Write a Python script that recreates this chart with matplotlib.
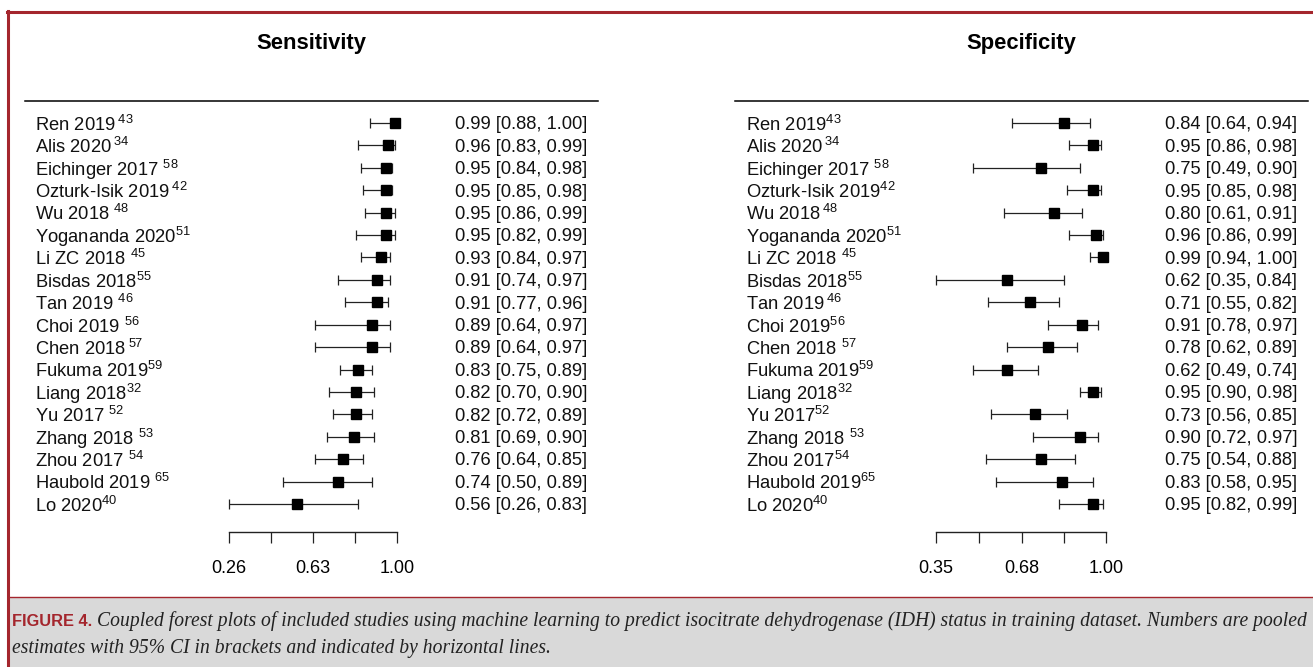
#!/usr/bin/env python3
# coupled forest plots (sensitivity / specificity) -- IDH training set, Fig. 4
import numpy as np
import matplotlib
matplotlib.use("Agg")
import matplotlib.pyplot as plt
from matplotlib.lines import Line2D
from matplotlib.patches import Rectangle
from matplotlib.transforms import blended_transform_factory

# ---- data ------------------------------------------------------------
studies = ["Ren 2019", "Alis 2020", "Eichinger 2017", "Ozturk-Isik 2019", "Wu 2018",
           "Yogananda 2020", "Li ZC 2018", "Bisdas 2018", "Tan 2019", "Choi 2019",
           "Chen 2018", "Fukuma 2019", "Liang 2018", "Yu 2017", "Zhang 2018",
           "Zhou 2017", "Haubold 2019", "Lo 2020"]
refs = ["43", "34", "58", "42", "48", "51", "45", "55", "46", "56",
        "57", "59", "32", "52", "53", "54", "65", "40"]
# gap before the reference number, as typeset in each panel ("" / thin / space)
sens_gap = ["t", "t", "s", "t", "s", "", "s", "", "s", "s", "t", "", "", "s", "s", "s", "s", ""]
spec_gap = ["", "t", "s", "", "t", "", "s", "", "t", "", "s", "", "", "", "s", "", "", ""]

sens_est = [0.99, 0.96, 0.95, 0.95, 0.95, 0.95, 0.93, 0.91, 0.91, 0.89, 0.89, 0.83, 0.82, 0.82, 0.81, 0.76, 0.74, 0.56]
sens_lo  = [0.88, 0.83, 0.84, 0.85, 0.86, 0.82, 0.84, 0.74, 0.77, 0.64, 0.64, 0.75, 0.70, 0.72, 0.69, 0.64, 0.50, 0.26]
sens_hi  = [1.00, 0.99, 0.98, 0.98, 0.99, 0.99, 0.97, 0.97, 0.96, 0.97, 0.97, 0.89, 0.90, 0.89, 0.90, 0.85, 0.89, 0.83]

spec_est = [0.84, 0.95, 0.75, 0.95, 0.80, 0.96, 0.99, 0.62, 0.71, 0.91, 0.78, 0.62, 0.95, 0.73, 0.90, 0.75, 0.83, 0.95]
spec_lo  = [0.64, 0.86, 0.49, 0.85, 0.61, 0.86, 0.94, 0.35, 0.55, 0.78, 0.62, 0.49, 0.90, 0.56, 0.72, 0.54, 0.58, 0.82]
spec_hi  = [0.94, 0.98, 0.90, 0.98, 0.91, 0.99, 1.00, 0.84, 0.82, 0.97, 0.89, 0.74, 0.98, 0.85, 0.97, 0.88, 0.95, 0.99]

sens_ticks = [0.26, 0.445, 0.63, 0.815, 1.00]
spec_ticks = [0.35, 0.5125, 0.68, 0.8375, 1.00]
sens_ticklabels = ["0.26", "", "0.63", "", "1.00"]
spec_ticklabels = ["0.35", "", "0.68", "", "1.00"]

caption_head = "FIGURE 4."
caption_l1 = ("Coupled forest plots of included studies using machine learning to predict isocitrate "
              "dehydrogenase (IDH) status in training dataset. Numbers are pooled")
caption_l2 = "estimates with 95% CI in brackets and indicated by horizontal lines."

# ---- style -----------------------------------------------------------
W, H = 1313, 667
RED = "#a4262d"
GREY = "#d9d9d9"
INK = "#111111"
plt.rcParams["font.family"] = ["Liberation Sans", "DejaVu Sans"]
plt.rcParams["mathtext.default"] = "regular"

ROW0, DROW = 123, 22.41      # px of first row, row pitch
AX_TOP, AX_BOT = 112, 532     # px
FS = 13.2
TXT_DY = 0.08                 # nudge row text down a touch (rows grow downward)


def fx(px):
    return px / W


def fy(py):
    return 1 - py / H


def label(name, ref, gap):
    g = {"": "", "t": r"\,", "s": " "}[gap]
    if g == " ":
        return f"{name} $^{{{ref}}}$"
    return f"{name}${g}^{{{ref}}}$"


def panel(fig, title, x0, x1, lab_x, num_x, ax_l, ax_r, ticks, ticklabels, est, lo, hi, gaps):
    ax = fig.add_axes([fx(ax_l), fy(AX_BOT), fx(ax_r - ax_l), (AX_BOT - AX_TOP) / H])
    rows = np.arange(len(est))
    est = np.asarray(est); lo = np.asarray(lo); hi = np.asarray(hi)
    cont = ax.errorbar(est, rows, xerr=[est - lo, hi - est], fmt="s", color="black",
                       ecolor="#222222", elinewidth=0.9, capsize=3.3, capthick=0.9, ms=7.4)
    for a in cont.lines[1] + cont.lines[2] + (cont.lines[0],):
        a.set_clip_on(False)
    ax.set_xlim(ticks[0], ticks[-1])
    ax.set_ylim((AX_BOT - ROW0) / DROW, (AX_TOP - ROW0) / DROW)
    for s in ("top", "left", "right"):
        ax.spines[s].set_visible(False)
    ax.spines["bottom"].set_linewidth(1.0)
    ax.spines["bottom"].set_color("#222222")
    ax.set_yticks([])
    ax.set_xticks(ticks)
    ax.set_xticklabels(ticklabels, fontsize=13)
    ax.tick_params(axis="x", direction="out", length=8, width=0.9, color="#222222", pad=12)
    ax.patch.set_visible(False)

    tr = blended_transform_factory(fig.transFigure, ax.transData)
    for i in rows:
        ax.text(fx(lab_x), i + TXT_DY, label(studies[i], refs[i], gaps[i]), transform=tr,
                ha="left", va="center", fontsize=FS, color=INK)
        ax.text(fx(num_x), i + TXT_DY, f"{est[i]:.2f} [{lo[i]:.2f}, {hi[i]:.2f}]", transform=tr,
                ha="left", va="center", fontsize=FS, color=INK)

    fig.add_artist(Line2D([fx(x0), fx(x1)], [fy(101)] * 2, color="black", lw=1.1))
    fig.text(fx((x0 + x1) / 2), fy(43), title, ha="center", va="center",
             fontsize=15.8, fontweight="bold")
    return ax


def main():
    fig = plt.figure(figsize=(W / 100, H / 100), dpi=100)

    panel(fig, "Sensitivity", 25, 598, 35, 455, 229, 397,
          sens_ticks, sens_ticklabels, sens_est, sens_lo, sens_hi, sens_gap)
    panel(fig, "Specificity", 735, 1308, 746, 1165, 936, 1106,
          spec_ticks, spec_ticklabels, spec_est, spec_lo, spec_hi, spec_gap)

    # frame + caption box
    fig.add_artist(Rectangle((fx(9), 0), 1, fy(597.5), transform=fig.transFigure,
                             facecolor=GREY, edgecolor="none", zorder=0))
    fig.add_artist(Line2D([fx(9), 1], [fy(597)] * 2, color=RED, lw=1.0))
    fig.add_artist(Line2D([fx(6.5), 1], [fy(11.5)] * 2, color=RED, lw=2.2))
    fig.add_artist(Line2D([fx(8)] * 2, [0, fy(10.5)], color=RED, lw=2.2))

    fig.text(fx(12), fy(621), caption_head, ha="left", va="center", fontsize=11.8,
             fontweight="bold", color=RED)
    fig.text(fx(97), fy(621), caption_l1, ha="left", va="center", fontsize=14.1,
             family=["Liberation Serif"], style="italic", color="#222222")
    fig.text(fx(12), fy(648), caption_l2, ha="left", va="center", fontsize=14.1,
             family=["Liberation Serif"], style="italic", color="#222222")

    fig.savefig("out.png", dpi=100)


if __name__ == "__main__":
    main()
